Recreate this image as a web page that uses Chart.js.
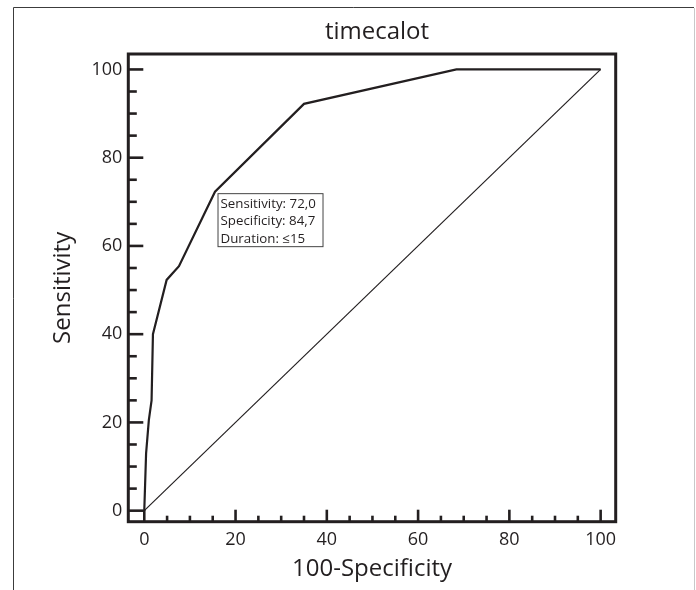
<!DOCTYPE html>
<html>
<head>
<meta charset="utf-8">
<script src="https://cdn.jsdelivr.net/npm/chart.js@4.4.1/dist/chart.umd.min.js"></script>
<style>
  html, body { margin: 0; padding: 0; background: #fff; }
</style>
</head>
<body>
<canvas id="roc" width="696" height="590"></canvas>
<script>
// ROC curve (100-Specificity vs Sensitivity)
const falsePositiveRate = [0, 0.4, 1.0, 1.6, 1.9, 4.9, 7.6, 15.5, 35, 68.4, 100];
const sensitivity = [0, 13, 20.5, 25, 40, 52.3, 55.4, 72.3, 92.2, 100, 100];
const chanceLine = [0, 100];
const tickLabels = [0, 20, 40, 60, 80, 100];
const cutoffIndex = 7; // the point that carries the label box
const cutoffLines = ['Sensitivity: 72,0', 'Specificity: 84,7', 'Duration: \u226415'];
const chartTitle = 'timecalot';

const ink = '#231f20';
const family = "'Open Sans', 'Noto Sans', sans-serif";

// frame, inward ticks, title and the label box
const rocDecor = {
  id: 'rocDecor',
  beforeDraw(chart) {
    const ctx = chart.ctx;
    ctx.save();
    ctx.fillStyle = '#fff';
    ctx.fillRect(0, 0, chart.width, chart.height);
    // page border
    ctx.lineWidth = 1;
    ctx.strokeStyle = '#3c3c3c';
    ctx.beginPath();
    ctx.moveTo(13.5, chart.height);
    ctx.lineTo(13.5, 7.5);
    ctx.lineTo(694, 7.5);
    ctx.stroke();
    ctx.strokeStyle = '#c8c8c8';
    ctx.beginPath();
    ctx.moveTo(694.5, 8);
    ctx.lineTo(694.5, chart.height);
    ctx.stroke();
    // title
    ctx.fillStyle = ink;
    ctx.font = '24px ' + family;
    ctx.textAlign = 'center';
    ctx.textBaseline = 'middle';
    ctx.fillText(chartTitle, 377, 32);
    ctx.restore();
  },
  afterDatasetsDraw(chart) {
    const { ctx, chartArea: a, scales: { x, y } } = chart;
    ctx.save();
    ctx.strokeStyle = ink;
    ctx.lineWidth = 2.6;
    for (let v = 0; v <= 100; v += 5) {
      const major = v % 20 === 0;
      const px = x.getPixelForValue(v);
      ctx.beginPath();
      ctx.moveTo(px, a.bottom);
      ctx.lineTo(px, a.bottom - (major ? 12 : 6));
      ctx.stroke();
      const py = y.getPixelForValue(v);
      ctx.beginPath();
      ctx.moveTo(a.left, py);
      ctx.lineTo(a.left + (major ? 15 : 8.5), py);
      ctx.stroke();
    }
    ctx.lineWidth = 3;
    ctx.strokeRect(a.left, a.top, a.right - a.left, a.bottom - a.top);

    // label box next to the chosen cut-off
    const bx = x.getPixelForValue(falsePositiveRate[cutoffIndex]) + 2.5;
    const by = y.getPixelForValue(sensitivity[cutoffIndex]) + 1.5;
    ctx.fillStyle = '#fff';
    ctx.fillRect(bx, by, 105.5, 53.5);
    ctx.lineWidth = 1;
    ctx.strokeStyle = '#444';
    ctx.strokeRect(bx + 0.5, by + 0.5, 105, 53);
    ctx.fillStyle = ink;
    ctx.font = '13.3px ' + family;
    ctx.textAlign = 'left';
    ctx.textBaseline = 'middle';
    cutoffLines.forEach((t, i) => ctx.fillText(t, bx + 3, by + 11 + i * 17.5));
    ctx.restore();
  }
};

const tickFont = { family, size: 18 };
const titleFont = { family, size: 24 };

new Chart(document.getElementById('roc'), {
  type: 'scatter',
  data: {
    datasets: [
      {
        label: 'ROC',
        data: falsePositiveRate.map((v, i) => ({ x: v, y: sensitivity[i] })),
        showLine: true,
        borderColor: ink,
        borderWidth: 2.2,
        pointRadius: 0,
        tension: 0,
      },
      {
        label: 'Reference',
        data: chanceLine.map((v) => ({ x: v, y: v })),
        showLine: true,
        borderColor: ink,
        borderWidth: 1.2,
        pointRadius: 0,
      },
    ],
  },
  options: {
    responsive: false,
    animation: false,
    devicePixelRatio: 1,
    layout: { padding: { left: 0, right: 80.3, top: 54, bottom: 0 } },
    plugins: {
      legend: { display: false },
      tooltip: { enabled: false },
      title: { display: false },
    },
    scales: {
      x: {
        type: 'linear',
        min: -3.5,
        max: 103.3,
        afterBuildTicks: (s) => { s.ticks = tickLabels.map((v) => ({ value: v })); },
        afterFit: (s) => { s.height = 68.3; },
        grid: { display: false, drawTicks: false },
        border: { display: false },
        ticks: { font: tickFont, color: ink, padding: 7, maxRotation: 0, autoSkip: false },
        title: { display: true, text: '100-Specificity', font: titleFont, color: ink, padding: { top: 0, bottom: 6.2 } },
      },
      y: {
        type: 'linear',
        min: -2.5,
        max: 103.5,
        afterBuildTicks: (s) => { s.ticks = tickLabels.map((v) => ({ value: v })); },
        afterFit: (s) => { s.width = 128.3; },
        grid: { display: false, drawTicks: false },
        border: { display: false },
        ticks: { font: tickFont, color: ink, padding: 6 },
        title: { display: true, text: 'Sensitivity', font: titleFont, color: ink, padding: { top: 48.3, bottom: 0 } },
      },
    },
  },
  plugins: [rocDecor],
});
</script>
</body>
</html>
